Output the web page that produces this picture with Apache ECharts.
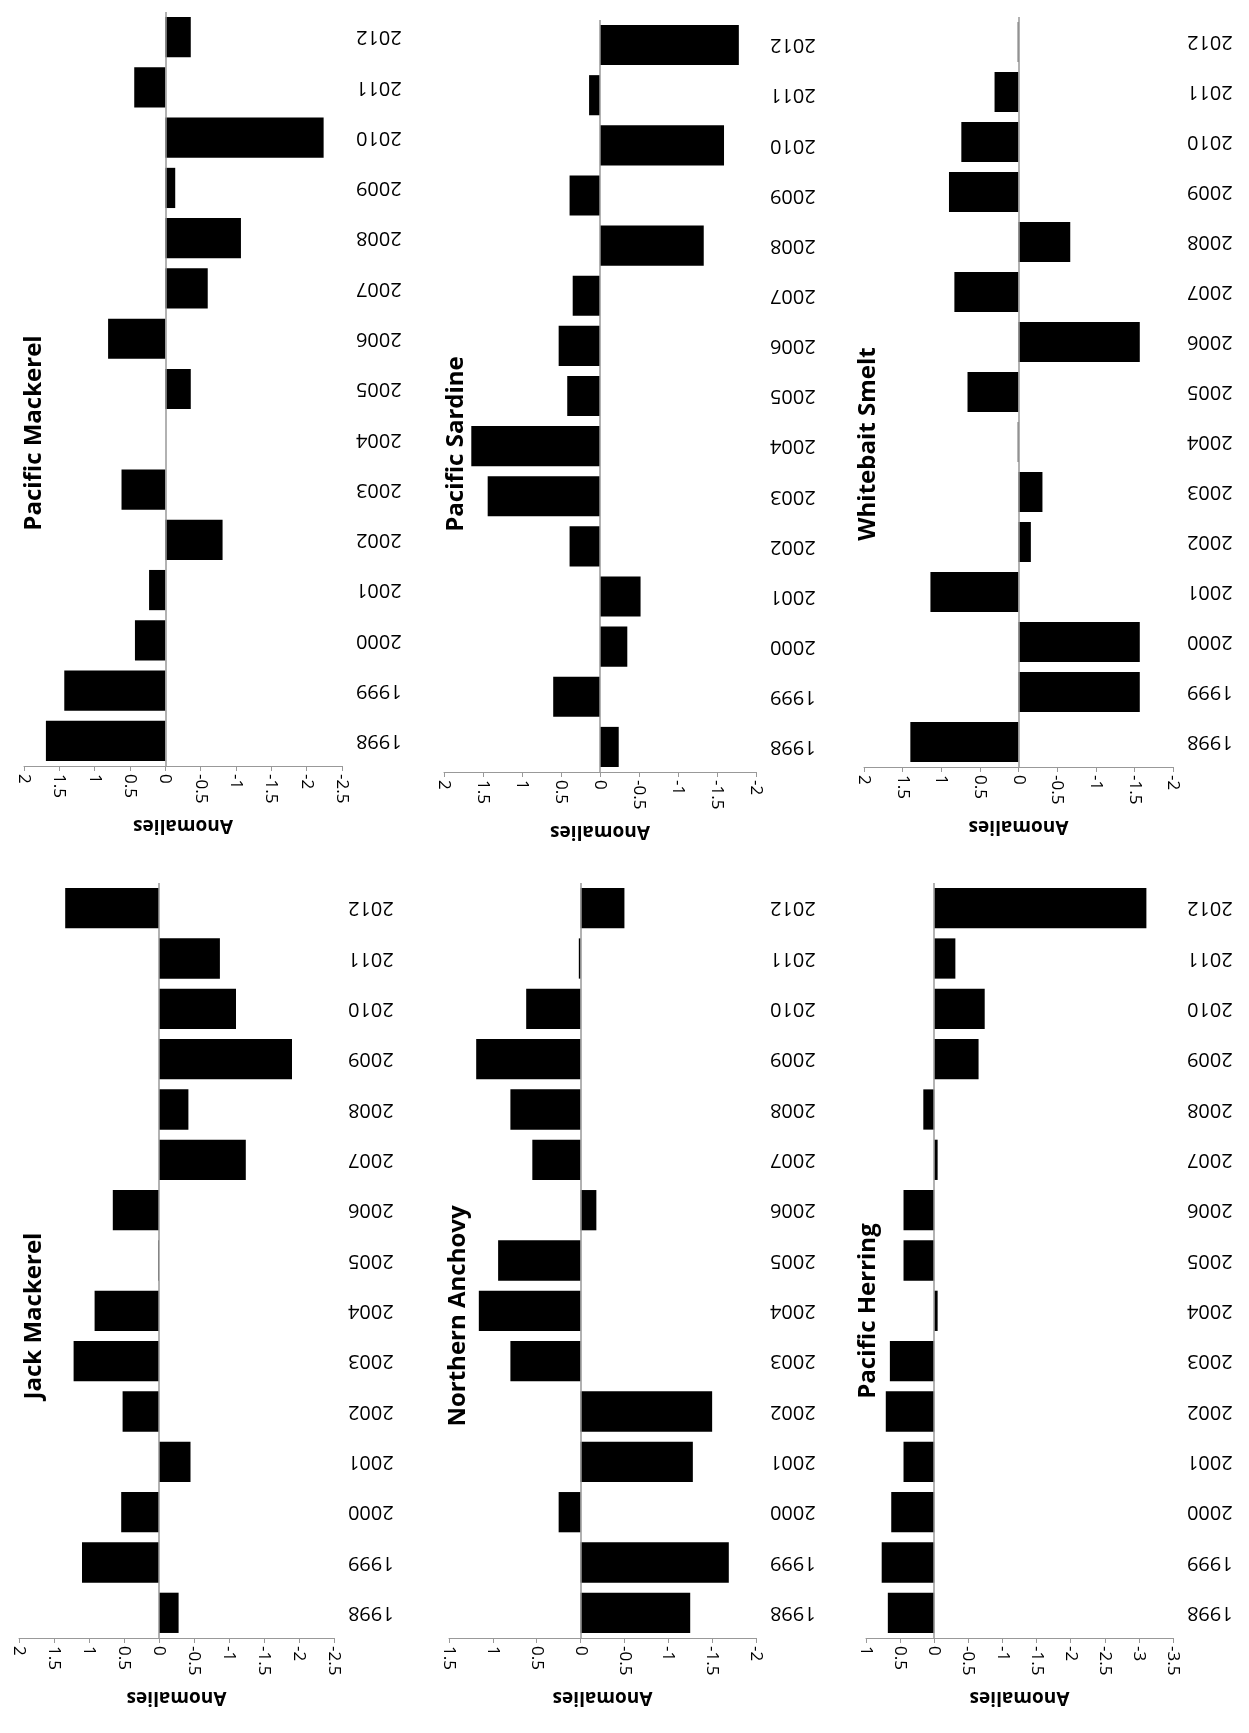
<!DOCTYPE html>
<html>
<head>
<meta charset="utf-8">
<script src="https://cdn.jsdelivr.net/npm/echarts@6/dist/echarts.min.js"></script>
<style>html,body{margin:0;padding:0;background:#fff}#main{width:1249px;height:1733px}</style>
</head>
<body>
<div id="main"></div>
<script>
var years = ['1998','1999','2000','2001','2002','2003','2004','2005','2006','2007','2008','2009','2010','2011','2012'];
var pacificMackerel = [1.69, 1.43, 0.43, 0.23, -0.81, 0.62, 0, -0.36, 0.81, -0.6, -1.07, -0.14, -2.24, 0.44, -0.36];
var pacificSardine = [-0.24, 0.6, -0.35, -0.52, 0.39, 1.44, 1.65, 0.42, 0.53, 0.35, -1.33, 0.39, -1.59, 0.14, -1.78];
var whitebaitSmelt = [1.4, -1.57, -1.57, 1.14, -0.16, -0.31, 0.01, 0.66, -1.57, 0.83, -0.67, 0.9, 0.74, 0.31, 0.01];
var jackMackerel = [-0.28, 1.1, 0.54, -0.45, 0.52, 1.22, 0.92, 0.01, 0.66, -1.24, -0.42, -1.9, -1.1, -0.87, 1.34];
var northernAnchovy = [-1.25, -1.69, 0.25, -1.28, -1.5, 0.8, 1.16, 0.94, -0.18, 0.55, 0.8, 1.19, 0.62, 0.02, -0.5];
var pacificHerring = [0.68, 0.77, 0.63, 0.45, 0.71, 0.65, -0.05, 0.45, 0.45, -0.05, 0.16, -0.65, -0.74, -0.31, -3.11];

// panel layout: grid box, axis range, title position
var panels = [
  {title: 'Pacific Mackerel', data: pacificMackerel, box: [24, 12, 318, 754], min: -2.5, max: 2, tx: 34, ty: 433},
  {title: 'Pacific Sardine', data: pacificSardine, box: [444, 20, 312, 752], min: -2, max: 2, tx: 456, ty: 444},
  {title: 'Whitebait Smelt', data: whitebaitSmelt, box: [864, 17, 309, 750], min: -2, max: 2, tx: 868, ty: 444},
  {title: 'Jack Mackerel', data: jackMackerel, box: [19, 883, 315, 755], min: -2.5, max: 2, tx: 34, ty: 1316},
  {title: 'Northern Anchovy', data: northernAnchovy, box: [449, 883, 307, 755], min: -2, max: 1.5, tx: 458, ty: 1316},
  {title: 'Pacific Herring', data: pacificHerring, box: [866, 883, 307, 755], min: -3.5, max: 1, tx: 868, ty: 1311}
];

var font = '"Open Sans", sans-serif';
var grid = [], xAxis = [], yAxis = [], series = [], graphic = [];
panels.forEach(function (p, i) {
  grid.push({left: p.box[0], top: p.box[1], width: p.box[2], height: p.box[3], containLabel: false});
  xAxis.push({
    type: 'value', gridIndex: i, inverse: true, min: p.min, max: p.max, interval: 0.5,
    splitLine: {show: false},
    axisLine: {show: true, lineStyle: {color: '#999'}},
    axisTick: {show: true, length: 5, lineStyle: {color: '#999'}},
    axisLabel: {rotate: -90, color: '#000', fontSize: 17, fontFamily: font, margin: 8},
    name: 'Anomalies', nameLocation: 'middle', nameGap: 50, nameRotate: 180,
    nameTextStyle: {fontSize: 19, fontWeight: 'bold', fontFamily: font, color: '#000'}
  });
  yAxis.push({
    type: 'category', gridIndex: i, data: years, position: 'right',
    axisLine: {show: false}, axisTick: {show: false},
    axisLabel: {rotate: 180, color: '#000', fontSize: 20, fontFamily: font, margin: 14}
  });
  series.push({
    type: 'bar', xAxisIndex: i, yAxisIndex: i, data: p.data,
    barCategoryGap: '20%', itemStyle: {color: '#000'}, silent: true,
    markLine: {
      silent: true, symbol: 'none', label: {show: false},
      lineStyle: {color: '#999', type: 'solid', width: 1.5},
      data: [{xAxis: 0}]
    }
  });
  graphic.push({
    type: 'text', x: p.tx, y: p.ty, rotation: Math.PI / 2,
    style: {text: p.title, font: 'bold 24px "Open Sans", sans-serif', fill: '#000', align: 'center', verticalAlign: 'middle'}
  });
});

var myChart = echarts.init(document.getElementById('main'));
myChart.setOption({
  animation: false,
  grid: grid, xAxis: xAxis, yAxis: yAxis, series: series, graphic: graphic
});
</script>
</body>
</html>
